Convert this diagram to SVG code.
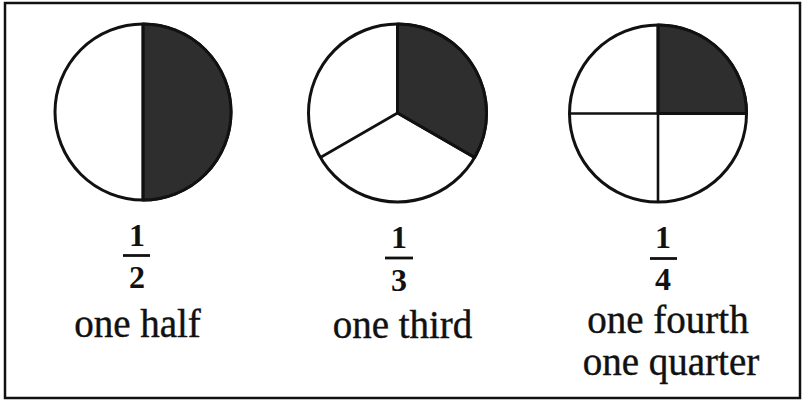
<svg xmlns="http://www.w3.org/2000/svg" width="805" height="402" viewBox="0 0 805 402">
<style>
.c{fill:#fff;stroke:#111;stroke-width:3}
.sh{fill:#2e2e2e;stroke:#111;stroke-width:3;stroke-linejoin:round}
.ln{stroke:#111;stroke-width:2.6;fill:none}
.num{font-family:"Liberation Serif","Times New Roman",serif;font-weight:bold;font-size:32px;fill:#111;text-anchor:middle}
.lbl{font-family:"Liberation Serif","Times New Roman",serif;font-size:39px;fill:#111;stroke:#111;stroke-width:0.4;text-anchor:middle}
.bar{stroke:#111;stroke-width:2.8}
</style>
<rect x="5" y="3" width="795" height="395" fill="#fff" stroke="#111" stroke-width="2.5"/>
<g id="half">
<circle class="c" cx="143" cy="112" r="88"/>
<path class="sh" d="M143 24 A88 88 0 0 1 143 200 Z"/>
<line class="ln" x1="143" y1="24" x2="143" y2="200"/>
<text class="num" x="137" y="246">1</text>
<line class="bar" x1="123" y1="255.5" x2="150" y2="255.5"/>
<text class="num" x="137" y="288">2</text>
<text class="lbl" x="137.5" y="337">one half</text>
</g>
<g id="third">
<circle class="c" cx="397.5" cy="113" r="89"/>
<path class="sh" d="M397.5 113 L397.5 24 A89 89 0 0 1 474.6 157.5 Z"/>
<path class="ln" d="M397.5 24 L397.5 113 L474.6 157.5 M397.5 113 L320.4 157.5"/>
<text class="num" x="399" y="248">1</text>
<line class="bar" x1="385" y1="258" x2="413" y2="258"/>
<text class="num" x="399" y="291">3</text>
<text class="lbl" x="402.5" y="338">one third</text>
</g>
<g id="quarter">
<circle class="c" cx="658" cy="113.5" r="88.5"/>
<path class="sh" d="M658 113.5 L658 25 A88.5 88.5 0 0 1 746.5 113.5 Z"/>
<path class="ln" d="M658 25 L658 202 M569.5 113.5 L746.5 113.5"/>
<text class="num" x="663" y="248">1</text>
<line class="bar" x1="650" y1="258.5" x2="677" y2="258.5"/>
<text class="num" x="663" y="290">4</text>
<text class="lbl" x="668" y="333">one fourth</text>
<text class="lbl" x="671" y="375">one quarter</text>
</g>
</svg>
